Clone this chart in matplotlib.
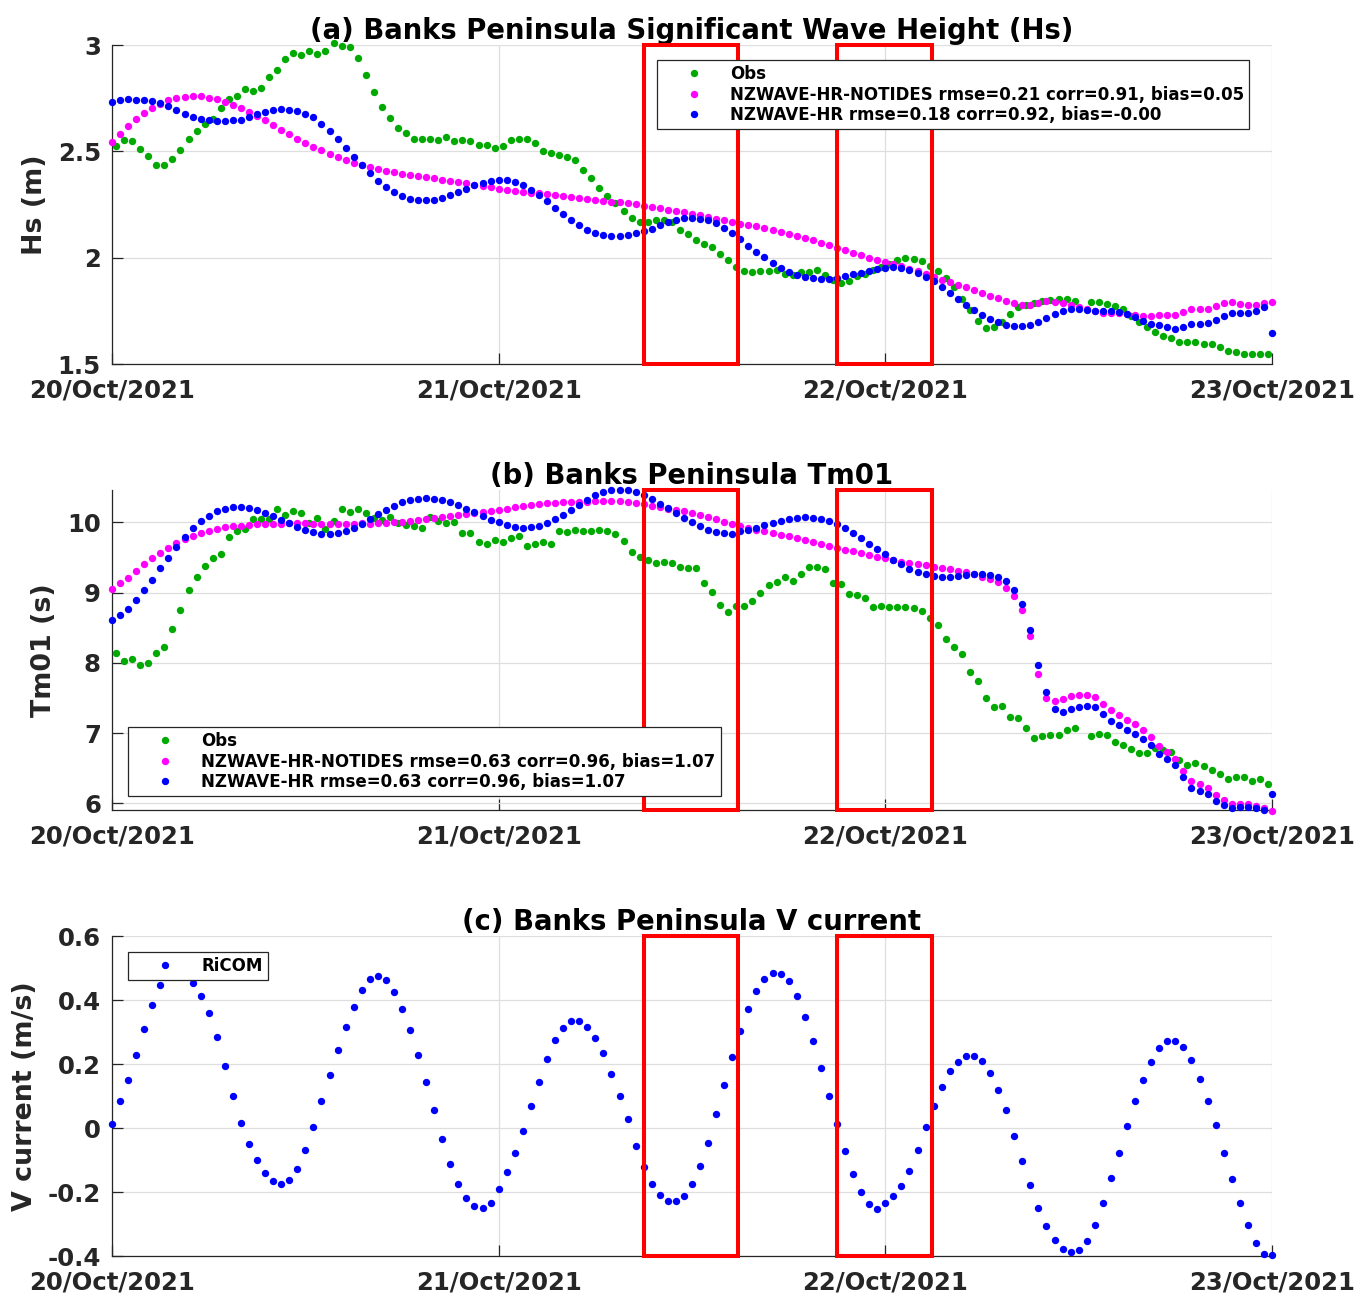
import numpy as np
import matplotlib
matplotlib.use("Agg")
import matplotlib.pyplot as plt
from matplotlib.patches import Rectangle
import matplotlib.transforms as mtransforms

nan = np.nan

# ---------------- data ----------------
day_ticks = [0, 1, 2, 3]
day_labels = ['20/Oct/2021', '21/Oct/2021', '22/Oct/2021', '23/Oct/2021']

# model output every 30 min from 20/Oct 00:00 to 23/Oct 00:00 ; obs offset by 15 min
n_model = 145
n_obs = 144

hs_obs = [2.524, 2.553, 2.547, 2.509, 2.476, 2.434, 2.434, 2.462, 2.505, 2.556,
          2.594, 2.627, 2.650, 2.702, 2.745, 2.759, 2.792, 2.782, 2.796, 2.848,
          2.881, 2.933, 2.961, 2.951, 2.970, 2.956, 2.970, 3.008, 2.994, 2.989,
          2.937, 2.857, 2.777, 2.707, 2.655, 2.608, 2.585, 2.556, 2.556, 2.556,
          2.552, 2.566, 2.547, 2.552, 2.547, 2.528, 2.528, 2.514, 2.524, 2.552,
          2.556, 2.556, 2.538, 2.500, 2.491, 2.481, 2.472, 2.458, 2.411, 2.373,
          2.326, 2.288, 2.255, 2.218, 2.185, 2.166, 2.166, 2.176, 2.176, 2.166,
          2.129, 2.110, 2.082, 2.063, 2.049, 2.016, 1.987, 1.955, 1.936, 1.931,
          1.936, 1.936, 1.940, 1.922, 1.917, 1.931, 1.931, 1.940, 1.917, 1.893,
          1.879, 1.889, 1.912, 1.922, 1.940, 1.955, 1.969, 1.987, 1.997, 1.992,
          1.983, 1.959, 1.936, 1.903, 1.860, 1.804, 1.752, 1.701, 1.668, 1.672,
          1.696, 1.734, 1.766, 1.776, 1.785, 1.795, 1.799, 1.804, 1.804, 1.795,
          nan, 1.790, 1.790, 1.781, 1.771, 1.757, 1.724, 1.696, 1.672, 1.649,
          1.630, 1.621, 1.602, 1.602, 1.602, 1.592, 1.592, 1.578, 1.560, 1.555,
          1.545, 1.545, 1.545, 1.545]

hs_notides = [2.542, 2.580, 2.618, 2.650, 2.679, 2.702, 2.721, 2.741, 2.751, 2.755,
              2.760, 2.759, 2.751, 2.745, 2.732, 2.716, 2.702, 2.683, 2.665, 2.646,
              2.622, 2.599, 2.580, 2.556, 2.538, 2.519, 2.505, 2.486, 2.472, 2.458,
              2.444, 2.434, 2.425, 2.415, 2.406, 2.401, 2.392, 2.387, 2.382, 2.378,
              2.373, 2.364, 2.359, 2.354, 2.350, 2.340, 2.335, 2.331, 2.321, 2.317,
              2.312, 2.307, 2.303, 2.303, 2.298, 2.293, 2.288, 2.284, 2.279, 2.274,
              2.270, 2.265, 2.260, 2.260, 2.255, 2.251, 2.241, 2.237, 2.232, 2.223,
              2.218, 2.213, 2.204, 2.199, 2.190, 2.183, 2.176, 2.166, 2.157, 2.152,
              2.147, 2.138, 2.129, 2.119, 2.110, 2.100, 2.091, 2.082, 2.067, 2.058,
              2.044, 2.034, 2.020, 2.011, 1.997, 1.987, 1.978, 1.969, 1.959, 1.948,
              1.936, 1.922, 1.908, 1.895, 1.884, 1.870, 1.860, 1.846, 1.832, 1.818,
              1.809, 1.795, 1.785, 1.776, 1.776, 1.785, 1.795, 1.790, 1.785, 1.776,
              1.766, 1.757, 1.748, 1.738, 1.738, 1.738, 1.734, 1.729, 1.724, 1.724,
              1.729, 1.729, 1.729, 1.743, 1.757, 1.757, 1.757, 1.771, 1.785, 1.790,
              1.781, 1.776, 1.776, 1.785, 1.790]

hs_hr = [2.732, 2.741, 2.745, 2.741, 2.741, 2.737, 2.726, 2.712, 2.693, 2.674,
         2.660, 2.650, 2.647, 2.641, 2.641, 2.646, 2.647, 2.660, 2.676, 2.685,
         2.694, 2.699, 2.694, 2.688, 2.676, 2.660, 2.627, 2.596, 2.556, 2.514,
         2.473, 2.434, 2.397, 2.359, 2.332, 2.307, 2.290, 2.274, 2.270, 2.270,
         2.270, 2.281, 2.295, 2.309, 2.323, 2.340, 2.350, 2.361, 2.365, 2.364,
         2.354, 2.340, 2.317, 2.295, 2.265, 2.232, 2.204, 2.176, 2.152, 2.130,
         2.114, 2.105, 2.100, 2.102, 2.105, 2.114, 2.124, 2.133, 2.152, 2.168,
         2.176, 2.185, 2.185, 2.180, 2.176, 2.161, 2.138, 2.114, 2.086, 2.053,
         2.025, 2.002, 1.973, 1.950, 1.931, 1.917, 1.908, 1.903, 1.898, 1.898,
         1.903, 1.912, 1.922, 1.926, 1.936, 1.945, 1.950, 1.955, 1.950, 1.940,
         1.926, 1.908, 1.889, 1.860, 1.832, 1.804, 1.776, 1.752, 1.729, 1.710,
         1.696, 1.682, 1.677, 1.677, 1.682, 1.696, 1.715, 1.734, 1.748, 1.757,
         1.757, 1.752, 1.748, 1.748, 1.748, 1.743, 1.734, 1.719, 1.701, 1.687,
         1.682, 1.672, 1.663, 1.672, 1.687, 1.687, 1.691, 1.705, 1.724, 1.738,
         1.738, 1.738, 1.748, 1.766, 1.644]

tm_obs = [8.135, 8.021, 8.050, 7.964, 7.993, 8.135, 8.221, 8.477, 8.747, 9.032,
          9.217, 9.374, 9.488, 9.544, 9.786, 9.872, 9.900, 10.043, 10.043, 10.043,
          10.185, 10.100, 10.157, 10.128, 9.986, 10.057, 9.900, 10.014, 10.185, 10.142,
          10.185, 10.128, 10.057, 10.028, 10.071, 9.986, 9.957, 9.943, 9.915, 10.081,
          10.014, 9.986, 10.000, 9.843, 9.843, 9.715, 9.687, 9.744, 9.715, 9.772,
          9.801, 9.658, 9.687, 9.715, 9.687, 9.872, 9.858, 9.886, 9.872, 9.872,
          9.886, 9.872, 9.829, 9.730, 9.573, 9.502, 9.459, 9.416, 9.431, 9.416,
          9.359, 9.345, 9.345, 9.132, 9.004, 8.819, 8.719, 8.804, 8.804, 8.875,
          8.989, 9.103, 9.146, 9.217, 9.160, 9.260, 9.359, 9.359, 9.331, 9.132,
          9.117, 8.975, 8.961, 8.918, 8.790, 8.804, 8.790, 8.790, 8.790, 8.776,
          8.733, 8.633, 8.534, 8.335, 8.221, 8.121, 7.865, 7.737, 7.495, 7.367,
          7.381, 7.224, 7.210, 7.068, 6.925, 6.954, 6.968, 6.968, 7.039, 7.068,
          nan, 6.954, 6.982, 6.968, 6.868, 6.826, 6.769, 6.712, 6.712, 6.783,
          6.754, 6.726, 6.612, 6.541, 6.569, 6.527, 6.470, 6.413, 6.342, 6.370,
          6.370, 6.313, 6.342, 6.270]

tm_notides = [9.046, 9.132, 9.203, 9.302, 9.402, 9.488, 9.559, 9.630, 9.701, 9.758,
              9.801, 9.843, 9.872, 9.900, 9.929, 9.943, 9.943, 9.957, 9.972, 9.972,
              9.972, 9.972, 9.986, 9.986, 9.986, 9.972, 9.972, 9.972, 9.972, 9.972,
              9.972, 9.986, 9.972, 9.986, 9.986, 10.000, 10.000, 10.014, 10.028, 10.043,
              10.057, 10.071, 10.085, 10.100, 10.114, 10.128, 10.142, 10.157, 10.171, 10.185,
              10.214, 10.228, 10.242, 10.256, 10.270, 10.270, 10.285, 10.285, 10.285, 10.285,
              10.299, 10.299, 10.299, 10.299, 10.285, 10.270, 10.256, 10.228, 10.214, 10.185,
              10.171, 10.157, 10.128, 10.100, 10.071, 10.043, 10.000, 9.972, 9.943, 9.915,
              9.886, 9.872, 9.843, 9.815, 9.801, 9.772, 9.744, 9.715, 9.687, 9.658,
              9.630, 9.601, 9.587, 9.559, 9.530, 9.502, 9.488, 9.459, 9.440, 9.416,
              9.402, 9.388, 9.359, 9.345, 9.331, 9.302, 9.288, 9.260, 9.217, 9.189,
              9.146, 9.060, 8.947, 8.747, 8.377, 7.836, 7.495, 7.452, 7.480, 7.523,
              7.537, 7.537, 7.509, 7.409, 7.324, 7.253, 7.181, 7.125, 7.039, 6.939,
              6.811, 6.726, 6.626, 6.456, 6.313, 6.271, 6.214, 6.114, 6.043, 5.986,
              5.986, 5.986, 5.957, 5.929, 5.886]

tm_hr = [8.605, 8.676, 8.762, 8.890, 9.032, 9.174, 9.345, 9.488, 9.644, 9.786,
         9.915, 10.014, 10.090, 10.157, 10.185, 10.214, 10.214, 10.199, 10.171, 10.128,
         10.085, 10.028, 9.986, 9.929, 9.886, 9.858, 9.829, 9.829, 9.843, 9.872,
         9.915, 9.972, 10.043, 10.114, 10.171, 10.228, 10.285, 10.313, 10.327, 10.342,
         10.327, 10.313, 10.285, 10.242, 10.185, 10.142, 10.085, 10.028, 10.000, 9.957,
         9.929, 9.915, 9.929, 9.943, 9.986, 10.043, 10.100, 10.171, 10.242, 10.313,
         10.384, 10.427, 10.456, 10.456, 10.456, 10.427, 10.384, 10.327, 10.256, 10.199,
         10.128, 10.057, 10.000, 9.943, 9.886, 9.858, 9.843, 9.829, 9.872, 9.886,
         9.915, 9.957, 9.986, 10.014, 10.043, 10.057, 10.071, 10.057, 10.043, 10.014,
         9.972, 9.915, 9.843, 9.772, 9.687, 9.616, 9.544, 9.459, 9.402, 9.331,
         9.288, 9.260, 9.231, 9.217, 9.217, 9.231, 9.246, 9.260, 9.260, 9.246,
         9.217, 9.160, 9.032, 8.833, 8.463, 7.964, 7.580, 7.338, 7.295, 7.338,
         7.367, 7.381, 7.367, 7.267, 7.167, 7.110, 7.039, 6.982, 6.910, 6.825,
         6.698, 6.626, 6.541, 6.370, 6.214, 6.171, 6.128, 6.028, 5.972, 5.929,
         5.943, 5.943, 5.929, 5.900, 6.128]

v_current = [0.013, 0.084, 0.150, 0.228, 0.309, 0.384, 0.447, 0.485, 0.498, 0.488,
             0.453, 0.413, 0.359, 0.284, 0.194, 0.100, 0.016, -0.050, -0.100, -0.141,
             -0.166, -0.175, -0.163, -0.128, -0.069, 0.003, 0.084, 0.166, 0.244, 0.316,
             0.378, 0.431, 0.466, 0.475, 0.463, 0.425, 0.372, 0.306, 0.228, 0.144,
             0.056, -0.034, -0.113, -0.175, -0.219, -0.244, -0.250, -0.234, -0.191, -0.138,
             -0.078, -0.009, 0.069, 0.144, 0.216, 0.275, 0.313, 0.334, 0.334, 0.316,
             0.281, 0.234, 0.169, 0.100, 0.028, -0.056, -0.122, -0.175, -0.209, -0.228,
             -0.228, -0.213, -0.175, -0.119, -0.047, 0.044, 0.134, 0.222, 0.303, 0.372,
             0.428, 0.466, 0.484, 0.481, 0.459, 0.413, 0.347, 0.272, 0.188, 0.100,
             0.013, -0.072, -0.144, -0.200, -0.238, -0.253, -0.234, -0.213, -0.181, -0.134,
             -0.069, 0.003, 0.069, 0.128, 0.178, 0.206, 0.225, 0.225, 0.209, 0.172,
             0.119, 0.056, -0.025, -0.103, -0.178, -0.250, -0.306, -0.350, -0.378, -0.388,
             -0.381, -0.353, -0.303, -0.234, -0.156, -0.078, 0.006, 0.084, 0.150, 0.206,
             0.250, 0.272, 0.272, 0.253, 0.213, 0.153, 0.084, 0.009, -0.078, -0.159,
             -0.234, -0.303, -0.359, -0.394, -0.397]

labels_a = ['Obs',
            'NZWAVE-HR-NOTIDES rmse=0.21 corr=0.91, bias=0.05',
            'NZWAVE-HR rmse=0.18 corr=0.92, bias=-0.00']
labels_b = ['Obs',
            'NZWAVE-HR-NOTIDES rmse=0.63 corr=0.96, bias=1.07',
            'NZWAVE-HR rmse=0.63 corr=0.96, bias=1.07']
labels_c = ['RiCOM']

titles = ['(a) Banks Peninsula Significant Wave Height (Hs)',
          '(b) Banks Peninsula Tm01',
          '(c) Banks Peninsula V current']
ylabels = ['Hs (m)', 'Tm01 (s)', 'V current (m/s)']

# highlighted windows (days since 20/Oct 00:00)
win_start = [1.375, 1.875]
win_end = [1.62, 2.12]

# --------------- styling ---------------
t_model = np.arange(n_model) / 48.0
t_obs = (np.arange(n_obs) + 0.5) / 48.0

C_OBS = '#00AA00'
C_NT = '#FF00FF'
C_HR = '#0000FF'
AX_C = '#262626'
GRID_C = '#DEDEDE'

plt.rcParams['font.family'] = ['DejaVu Sans']
plt.rcParams['font.weight'] = 'bold'

fig = plt.figure(figsize=(13.68, 13.06), dpi=100)
W, H = 1368.0, 1306.0

def add_ax(top_px, bot_px):
    return fig.add_axes([112 / W, 1 - bot_px / H, 1160 / W, (bot_px - top_px) / H])

axes = [add_ax(45, 364), add_ax(490, 810), add_ax(936, 1256)]

ms = 5.3
def dots(ax, x, y, c, lab):
    ax.plot(x, y, linestyle='none', marker='o', ms=ms, mew=0, color=c,
            label=lab, clip_on=False, zorder=3)

ax = axes[0]
dots(ax, t_obs, hs_obs, C_OBS, labels_a[0])
dots(ax, t_model, hs_notides, C_NT, labels_a[1])
dots(ax, t_model, hs_hr, C_HR, labels_a[2])
ax.set_ylim(1.5, 3.0)
ax.set_yticks([1.5, 2, 2.5, 3])
ax.set_yticklabels(['1.5', '2', '2.5', '3'])

ax = axes[1]
dots(ax, t_obs, tm_obs, C_OBS, labels_b[0])
dots(ax, t_model, tm_notides, C_NT, labels_b[1])
dots(ax, t_model, tm_hr, C_HR, labels_b[2])
allb = np.concatenate([np.array(tm_obs), np.array(tm_notides), np.array(tm_hr)])
ax.set_ylim(np.nanmin(allb) + 0.02, np.nanmax(allb) + 0.004)
ax.set_yticks([6, 7, 8, 9, 10])
ax.set_yticklabels(['6', '7', '8', '9', '10'])

ax = axes[2]
dots(ax, t_model, v_current, C_HR, labels_c[0])
ax.set_ylim(-0.4, 0.6)
ax.set_yticks([-0.4, -0.2, 0, 0.2, 0.4, 0.6])
ax.set_yticklabels(['-0.4', '-0.2', '0', '0.2', '0.4', '0.6'])

leg_pos = [(545 / 1160, 1 - 15 / 319), (16 / 1160, 1 - 237 / 320), (16 / 1160, 1 - 16 / 320)]

for i, ax in enumerate(axes):
    ax.set_xlim(0, 3)
    ax.set_xticks(day_ticks)
    ax.set_xticklabels(day_labels)
    ax.grid(True, color=GRID_C, linewidth=0.9, zorder=0)
    ax.set_axisbelow(True)
    for s in ['top', 'right']:
        ax.spines[s].set_visible(False)
    for s in ['left', 'bottom']:
        ax.spines[s].set_color(AX_C)
        ax.spines[s].set_linewidth(0.9)
    ax.tick_params(axis='both', direction='in', length=8, width=0.9, color=AX_C,
                   labelcolor=AX_C, labelsize=17.6)
    ax.tick_params(axis='x', pad=10.5)
    ax.tick_params(axis='y', pad=8)
    for lbl in ax.get_xticklabels() + ax.get_yticklabels():
        lbl.set_fontweight('bold')
    ax.set_title(titles[i], fontsize=19.8, fontweight='bold', color='black', pad=3)
    ax.set_ylabel(ylabels[i], fontsize=19.4, fontweight='bold', color=AX_C, labelpad=7)
    trans = mtransforms.blended_transform_factory(ax.transData, ax.transAxes)
    for xs, xe in zip(win_start, win_end):
        ax.add_patch(Rectangle((xs, 0), xe - xs, 1, transform=trans, fill=False,
                               edgecolor='#FF0000', linewidth=2.9, clip_on=False, zorder=10))
    leg = ax.legend(loc='upper left', bbox_to_anchor=leg_pos[i], borderaxespad=0,
                    frameon=True, fancybox=False, edgecolor='#262626', framealpha=1,
                    prop={'size': 12, 'weight': 'bold'}, borderpad=0.3,
                    handlelength=3.86, handletextpad=0.24, labelspacing=0.15,
                    markerscale=1.0, numpoints=1)
    leg.get_frame().set_linewidth(0.9)
    leg.set_zorder(20)

fig.savefig('out.png', dpi=100)
